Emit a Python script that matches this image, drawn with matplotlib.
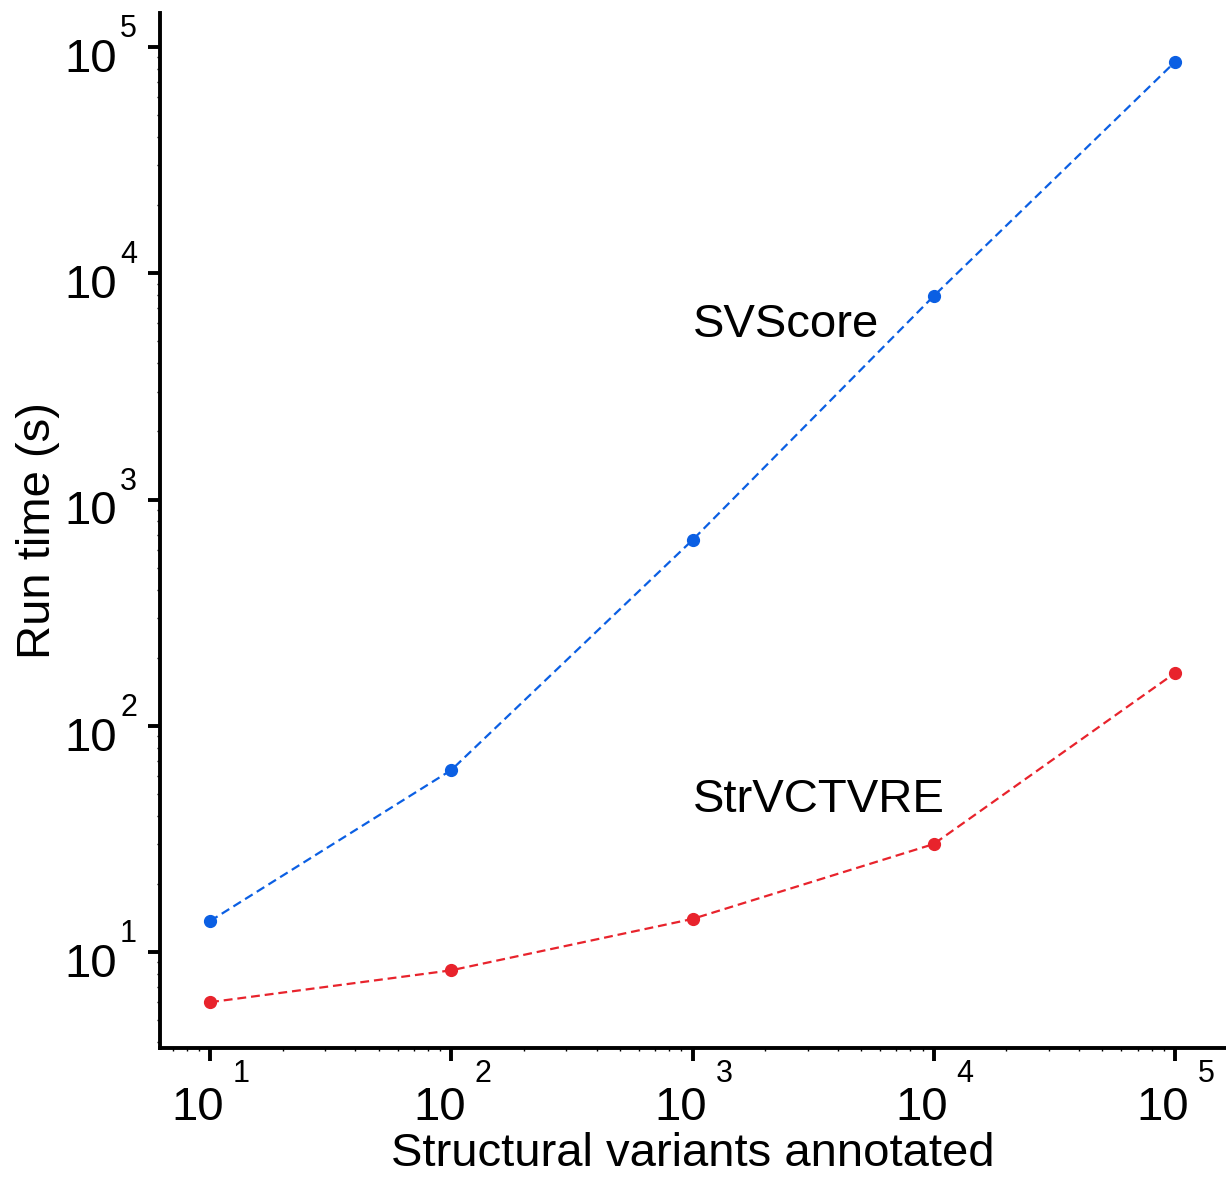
import matplotlib
matplotlib.use("Agg")
import matplotlib.pyplot as plt
from matplotlib.ticker import LogLocator, NullFormatter, FixedLocator

plt.rcParams['font.family'] = ['Liberation Sans', 'DejaVu Sans']

# run time benchmark
n_variants = [10, 100, 1000, 10000, 100000]
svscore_time = [13.7, 63.7, 662, 7930, 85900]
strvctvre_time = [6.0, 8.3, 14.0, 30.0, 171]

tick_exps = [1, 2, 3, 4, 5]
tick_vals = [10 ** e for e in tick_exps]

blue = '#0b5fe3'
red = '#e8232c'

W, H = 1226, 1177
fig = plt.figure(figsize=(W / 100, H / 100), dpi=100)
ax = fig.add_axes([160 / W, 1 - 1048 / H, (1225 - 160) / W, (1048 - 13) / H])

ax.plot(n_variants, svscore_time, linestyle='--', color=blue, lw=1.6,
        marker='o', markersize=8.5, dashes=(4, 2.2))
ax.plot(n_variants, strvctvre_time, linestyle='--', color=red, lw=1.6,
        marker='o', markersize=8.5, dashes=(4, 2.2))

ax.set_xscale('log')
ax.set_yscale('log')
ax.set_xlim(10 ** (1 - 50 / 241), 10 ** (5 + 50 / 241))
ax.set_ylim(10 ** (1 - 96 / 226.25), 10 ** (5 + 34 / 226.25))

ax.text(1000, 5900, 'SVScore', fontsize=34, va='center', ha='left')
ax.text(1000, 47, 'StrVCTVRE', fontsize=34, va='center', ha='left')

for a in (ax.xaxis, ax.yaxis):
    a.set_major_locator(FixedLocator(tick_vals))
    a.set_major_formatter(NullFormatter())
    a.set_minor_locator(LogLocator(base=10, subs=range(2, 10), numticks=20))
    a.set_minor_formatter(NullFormatter())

ax.tick_params(which='major', direction='out', length=9, width=2.8)
ax.tick_params(which='minor', direction='out', length=2.5, width=1.0)

# tick labels: "10" with a raised exponent beside it
for e, v in zip(tick_exps, tick_vals):
    # x axis
    ax.annotate('10', xy=(v, 0), xycoords=('data', 'axes fraction'),
                xytext=(-12, -72), textcoords='offset pixels',
                fontsize=34, ha='center', va='baseline', annotation_clip=False)
    ax.annotate(str(e), xy=(v, 0), xycoords=('data', 'axes fraction'),
                xytext=(23, -34), textcoords='offset pixels',
                fontsize=22, ha='left', va='baseline', annotation_clip=False)
    # y axis
    ax.annotate('10', xy=(0, v), xycoords=('axes fraction', 'data'),
                xytext=(-43, -25), textcoords='offset pixels',
                fontsize=34, ha='right', va='baseline', annotation_clip=False)
    ax.annotate(str(e), xy=(0, v), xycoords=('axes fraction', 'data'),
                xytext=(-40, 10), textcoords='offset pixels',
                fontsize=22, ha='left', va='baseline', annotation_clip=False)

ax.spines['top'].set_visible(False)
ax.spines['right'].set_visible(False)
ax.spines['left'].set_linewidth(2.8)
ax.spines['bottom'].set_linewidth(2.8)

ax.set_xlabel('Structural variants annotated', fontsize=34)
ax.set_ylabel('Run time (s)', fontsize=34)
ax.xaxis.set_label_coords(0.5, -0.0812)
ax.yaxis.set_label_coords(-0.0939, 0.5)

fig.savefig('out.png', dpi=100)
